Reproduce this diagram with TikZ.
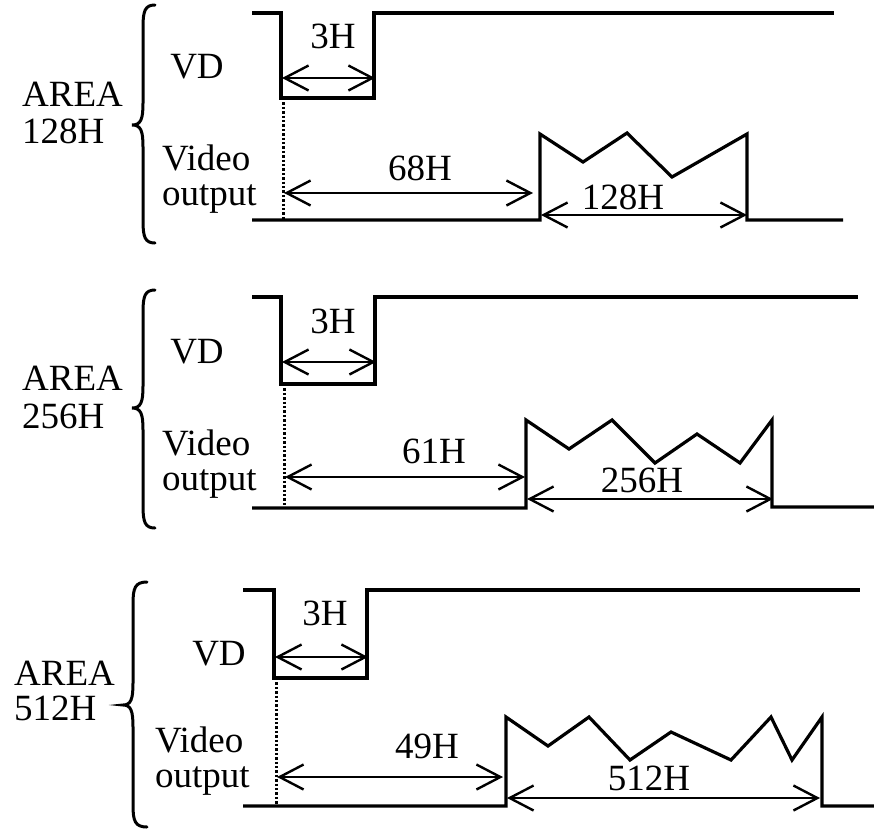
\documentclass[tikz,border=0pt]{standalone}
\usepackage{fontspec}
\setmainfont{Liberation Serif}
\usetikzlibrary{arrows.meta}
\tikzset{
  sig/.style={line width=3.2pt, line join=miter},
  dim/.style={line width=2.4pt, {Straight Barb[length=24pt,width=25pt]}-{Straight Barb[length=24pt,width=25pt]}},
  vdot/.style={line width=3pt, dash pattern=on 2.4pt off 2pt},
  lbl/.style={inner sep=0pt, font=\fontsize{37}{41}\selectfont, anchor=base},
  lblw/.style={lbl, anchor=base west},
  bracestyle/.style={line width=3pt, line cap=round}
}
% \mybrace{name}{xe}{xv}{xt}{yt}{ym}{yb}
\newcommand{\mybrace}[7]{%
  \coordinate (#1t) at (#2,#5);
  \coordinate (#1m) at (#4,#6);
  \coordinate (#1b) at (#2,#7);
  \draw[bracestyle] (#1t) .. controls ({#3+2},#5) and (#3,{#5+6}) .. (#3,{#5+22})
    -- (#3,{#6-22}) .. controls (#3,{#6-6}) and ({#3-2},#6) .. (#1m)
    .. controls ({#3-2},#6) and (#3,{#6+6}) .. (#3,{#6+22})
    -- (#3,{#7-22}) .. controls (#3,{#7-6}) and ({#3+2},#7) .. (#1b);
}
\begin{document}
\begin{tikzpicture}[x=1pt,y=-1pt]
\useasboundingbox (0,0) rectangle (874,828);

% ---------------- Panel 1 ----------------
\mybrace{br1}{155}{143}{132}{5}{125}{243}
\node[lblw] (area1) at (22,106) {AREA};
\node[lblw] (size1) at (22,143) {128H};
\node[lbl] (vd1) at (197,78) {VD};
\node[lblw] (vid1) at (162,170) {Video};
\node[lblw] (out1) at (162,205) {output};

\coordinate (v1a) at (252,13);
\coordinate (v1b) at (281,13);
\coordinate (v1c) at (281,98);
\coordinate (v1d) at (374,98);
\coordinate (v1e) at (374,13);
\coordinate (v1f) at (834,13);
\draw[sig] (v1a) -- (v1b) -- (v1c) -- (v1d) -- (v1e) -- (v1f);

\coordinate (d1a) at (283,98);
\coordinate (d1b) at (283,220);
\draw[vdot] (d1a) -- (d1b);

\coordinate (o1a) at (252,220);
\coordinate (o1b) at (540,220);
\coordinate (o1c) at (540,134);
\coordinate (o1d) at (583,162);
\coordinate (o1e) at (627,133);
\coordinate (o1f) at (672,177);
\coordinate (o1g) at (747,134);
\coordinate (o1h) at (747,220);
\coordinate (o1i) at (843,220);
\draw[sig] (o1a) -- (o1b) -- (o1c) -- (o1d) -- (o1e) -- (o1f) -- (o1g) -- (o1h) -- (o1i);

\coordinate (h31l) at (282,78);
\coordinate (h31r) at (375,78);
\draw[dim] (h31l) -- (h31r);
\node[lbl] (t31) at (333,48) {3H};

\coordinate (w1l) at (284,193);
\coordinate (w1r) at (533,193);
\draw[dim] (w1l) -- (w1r);
\node[lbl] (t68) at (420,180) {68H};

\coordinate (p1l) at (541,215);
\coordinate (p1r) at (747,215);
\draw[dim] (p1l) -- (p1r);
\node[lbl] (t128) at (623,209) {128H};

% ---------------- Panel 2 ----------------
\mybrace{br2}{155}{143}{132}{290}{408}{528}
\node[lblw] (area2) at (22,390) {AREA};
\node[lblw] (size2) at (22,428) {256H};
\node[lbl] (vd2) at (197,363) {VD};
\node[lblw] (vid2) at (162,455) {Video};
\node[lblw] (out2) at (162,490) {output};

\coordinate (v2a) at (252,297);
\coordinate (v2b) at (281,297);
\coordinate (v2c) at (281,384);
\coordinate (v2d) at (375,384);
\coordinate (v2e) at (375,297);
\coordinate (v2f) at (858,297);
\draw[sig] (v2a) -- (v2b) -- (v2c) -- (v2d) -- (v2e) -- (v2f);

\coordinate (d2a) at (284,384);
\coordinate (d2b) at (284,508);
\draw[vdot] (d2a) -- (d2b);

\coordinate (o2a) at (252,508);
\coordinate (o2b) at (526,508);
\coordinate (o2c) at (526,420);
\coordinate (o2d) at (569,449);
\coordinate (o2e) at (612,420);
\coordinate (o2f) at (655,463);
\coordinate (o2g) at (697,434);
\coordinate (o2h) at (740,463);
\coordinate (o2i) at (772,420);
\coordinate (o2j) at (772,507);
\coordinate (o2k) at (874,507);
\draw[sig] (o2a) -- (o2b) -- (o2c) -- (o2d) -- (o2e) -- (o2f) -- (o2g) -- (o2h) -- (o2i) -- (o2j) -- (o2k);

\coordinate (h32l) at (282,362);
\coordinate (h32r) at (376,362);
\draw[dim] (h32l) -- (h32r);
\node[lbl] (t32) at (333,333) {3H};

\coordinate (w2l) at (285,477);
\coordinate (w2r) at (525,477);
\draw[dim] (w2l) -- (w2r);
\node[lbl] (t61) at (434,463) {61H};

\coordinate (p2l) at (527,499);
\coordinate (p2r) at (773,499);
\draw[dim] (p2l) -- (p2r);
\node[lbl] (t256) at (642,492) {256H};

% ---------------- Panel 3 ----------------
\mybrace{br3}{147}{133}{123}{582}{705}{827}
\node[lblw] (area3) at (14,685) {AREA};
\node[lblw] (size3) at (14,720) {512H};
\node[lbl] (vd3) at (219,665) {VD};
\node[lblw] (vid3) at (155,752) {Video};
\node[lblw] (out3) at (155,787) {output};

\coordinate (v3a) at (243,590);
\coordinate (v3b) at (274,590);
\coordinate (v3c) at (274,678);
\coordinate (v3d) at (367,678);
\coordinate (v3e) at (367,590);
\coordinate (v3f) at (860,590);
\draw[sig] (v3a) -- (v3b) -- (v3c) -- (v3d) -- (v3e) -- (v3f);

\coordinate (d3a) at (276,678);
\coordinate (d3b) at (276,806);
\draw[vdot] (d3a) -- (d3b);

\coordinate (o3a) at (243,806);
\coordinate (o3b) at (506,806);
\coordinate (o3c) at (506,717);
\coordinate (o3d) at (548,746);
\coordinate (o3e) at (589,717);
\coordinate (o3f) at (630,760);
\coordinate (o3g) at (671,732);
\coordinate (o3h) at (731,760);
\coordinate (o3i) at (771,717);
\coordinate (o3j) at (792,760);
\coordinate (o3k) at (822,717);
\coordinate (o3l) at (822,806);
\coordinate (o3m) at (874,806);
\draw[sig] (o3a) -- (o3b) -- (o3c) -- (o3d) -- (o3e) -- (o3f) -- (o3g) -- (o3h) -- (o3i) -- (o3j) -- (o3k) -- (o3l) -- (o3m);

\coordinate (h33l) at (275,657);
\coordinate (h33r) at (368,657);
\draw[dim] (h33l) -- (h33r);
\node[lbl] (t33) at (325,625) {3H};

\coordinate (w3l) at (277,777);
\coordinate (w3r) at (503,777);
\draw[dim] (w3l) -- (w3r);
\node[lbl] (t49) at (427,758) {49H};

\coordinate (p3l) at (507,798);
\coordinate (p3r) at (820,798);
\draw[dim] (p3l) -- (p3r);
\node[lbl] (t512) at (649,790) {512H};
\end{tikzpicture}
\end{document}
